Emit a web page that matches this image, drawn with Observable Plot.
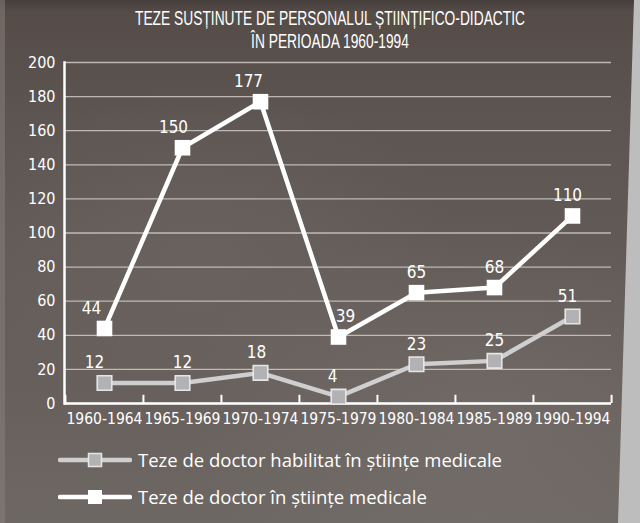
<!DOCTYPE html>
<html>
<head>
<meta charset="utf-8">
<script src="https://cdn.jsdelivr.net/npm/d3@7"></script>
<script src="https://cdn.jsdelivr.net/npm/@observablehq/plot@0.6"></script>
<style>
  html, body { margin: 0; padding: 0; }
  body { width: 640px; height: 523px; overflow: hidden; }
  #wrap {
    position: relative; width: 640px; height: 523px; overflow: hidden;
    background:
      radial-gradient(ellipse 260px 160px at 200px 250px, rgba(120,112,108,0.35), rgba(0,0,0,0)),
      radial-gradient(ellipse 300px 200px at 480px 420px, rgba(130,124,120,0.35), rgba(0,0,0,0)),
      linear-gradient(to bottom, #463e3b 0px, #554c48 12px, #5d5551 120px, #67605c 400px, #6e6864 523px);
  }
  #leftedge { position: absolute; left: 0; top: 0; width: 5px; height: 523px; background: rgba(140,130,125,0.5); }
  #paper {
    position: absolute; left: 0; top: 0; width: 640px; height: 523px;
    background: linear-gradient(to right, #9e9c9b, #b8b8b8 6px, #bdbdbd);
    clip-path: polygon(634px 0px, 640px 0px, 640px 523px, 618px 523px);
  }
  #title {
    position: absolute; left: 10px; top: 6px; width: 640px; text-align: center;
    color: #ffffff; font-family: "Liberation Sans", Arial, sans-serif;
    font-size: 21px; line-height: 23px;
  }
  #title div { display: block; white-space: nowrap; transform-origin: 320px 50%; }
  #chart { position: absolute; left: 0; top: 0; }
  #legend {
    position: absolute; left: 58px; top: 441px;
    font-family: "Open Sans", "Noto Sans", sans-serif; font-size: 18.5px; color: #ffffff;
  }
  .row { display: flex; align-items: center; height: 37px; }
  .row svg { margin-right: 6px; }
</style>
</head>
<body>
<div id="wrap">
  <div id="leftedge"></div>
  <div id="paper"></div>
  <div id="title"><div id="t1">TEZE SUSȚINUTE DE PERSONALUL ȘTIINȚIFICO-DIDACTIC</div><div id="t2">ÎN PERIOADA 1960-1994</div></div>
  <div id="chart"></div>
  <div id="legend"></div>
</div>
<script>
// ---- data ----
const periods = ["1960-1964", "1965-1969", "1970-1974", "1975-1979", "1980-1984", "1985-1989", "1990-1994"];
const habilitat = [12, 12, 18, 4, 23, 25, 51];
const doctor = [44, 150, 177, 39, 65, 68, 110];
const yTicks = [0, 20, 40, 60, 80, 100, 120, 140, 160, 180, 200];
const seriesNames = ["Teze de doctor habilitat în științe medicale", "Teze de doctor în științe medicale"];
// label nudges (layout only)
const doctorLabelDx = [-13, -9, -12, 7, 0, 0, -5];
const habilitatLabelDx = [-10, 0, -4, -6, 0, 0, -5];

const W = 640, H = 430;
const mL = 64, mR = 29, mT = 62, mB = 27;
const bw = (W - mL - mR) / periods.length;

const habData = periods.map((p, i) => ({period: p, value: habilitat[i], dx: habilitatLabelDx[i]}));
const docData = periods.map((p, i) => ({period: p, value: doctor[i], dx: doctorLabelDx[i]}));
const edges = periods.map((p, i) => ({period: p, dx: -bw / 2})).concat([{period: periods[periods.length - 1], dx: bw / 2}]);

const condensed = '"Liberation Sans Narrow", "DejaVu Sans Condensed", "Arial Narrow", sans-serif';
const white = "#ffffff";
const grayLine = "#cfcfd0";
const grayFill = "#b2b2b4";

const marks = [
  Plot.gridY(yTicks, {stroke: "#cfcac6", strokeOpacity: 0.85, strokeWidth: 1.3}),
  Plot.ruleY([0], {stroke: white, strokeWidth: 2.5}),
  Plot.frame({anchor: "left", stroke: white, strokeWidth: 2.5}),
  ...edges.map(e => Plot.ruleX([e.period], {x: d => d, y1: 0, y2: 4.8, dx: e.dx, stroke: white, strokeWidth: 2})),
  Plot.axisY(yTicks, {tickSize: 0, tickPadding: 9, fontSize: 16, fill: white, fontFamily: condensed, label: null}),
  Plot.axisX({tickSize: 0, tickPadding: 9, fontSize: 15.5, fill: white, fontFamily: condensed, label: null}),
  Plot.line(habData, {x: "period", y: "value", stroke: grayLine, strokeWidth: 4.5}),
  Plot.dot(habData, {x: "period", y: "value", symbol: "square", r: 8.2, fill: grayFill, stroke: "#e6e6e6", strokeWidth: 1.6}),
  Plot.line(docData, {x: "period", y: "value", stroke: white, strokeWidth: 4.5}),
  Plot.dot(docData, {x: "period", y: "value", symbol: "square", r: 8.8, fill: white, stroke: "none"}),
  ...habData.map(d => Plot.text([d], {x: "period", y: "value", text: "value", dy: -20, dx: d.dx, fill: white, fontSize: 17, fontFamily: condensed})),
  ...docData.map(d => Plot.text([d], {x: "period", y: "value", text: "value", dy: -20, dx: d.dx, fill: white, fontSize: 17, fontFamily: condensed}))
];

const chart = Plot.plot({
  width: W, height: H,
  marginLeft: mL, marginRight: mR, marginTop: mT, marginBottom: mB,
  style: {background: "transparent", color: white, overflow: "visible"},
  x: {type: "band", domain: periods, padding: 0},
  y: {domain: [0, 200]},
  marks
});
document.getElementById("chart").appendChild(chart);

// condense the title to the reference width
(function () {
  const t1 = document.getElementById("t1"), t2 = document.getElementById("t2");
  const probe = document.createElement("span");
  probe.style.whiteSpace = "nowrap";
  probe.textContent = t1.textContent;
  t1.textContent = ""; t1.appendChild(probe);
  const w = probe.getBoundingClientRect().width;
  const k = Math.min(1, 390 / w);
  t1.style.transform = `scaleX(${k})`;
  t2.style.transform = `scaleX(${k})`;
})();

// legend
const legend = document.getElementById("legend");
const styles = [
  {stroke: grayLine, fill: grayFill, mstroke: "#e6e6e6", size: 13},
  {stroke: white, fill: white, mstroke: "none", size: 14}
];
seriesNames.forEach((name, i) => {
  const s = styles[i];
  const row = document.createElement("div");
  row.className = "row";
  const half = s.size / 2;
  row.innerHTML = `<svg width="74" height="20"><line x1="2" x2="72" y1="10" y2="10" stroke="${s.stroke}" stroke-width="4.5" stroke-linecap="round"/>` +
    `<rect x="${37 - half}" y="${10 - half}" width="${s.size}" height="${s.size}" fill="${s.fill}" stroke="${s.mstroke}" stroke-width="1.5"/></svg>` +
    `<span>${name}</span>`;
  legend.appendChild(row);
});
</script>
</body>
</html>
